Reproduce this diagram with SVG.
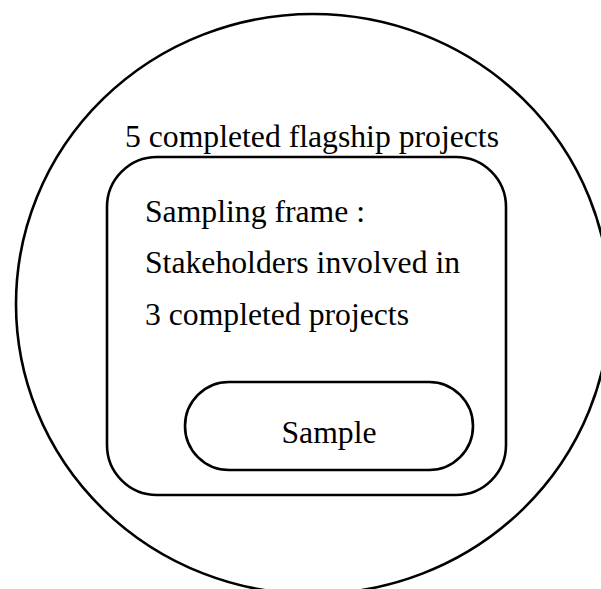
<svg xmlns="http://www.w3.org/2000/svg" width="601" height="589" viewBox="0 0 601 589">
  <style>
    .outline { fill: none; stroke: #000; stroke-width: 2.6; }
    .label { font-family: "Liberation Serif", "Times New Roman", serif; font-size: 31.7px; fill: #000; }
  </style>
  <rect width="601" height="589" fill="#fff"/>
  <!-- outer population: completed flagship projects -->
  <g id="population">
    <ellipse class="outline" cx="313" cy="304" rx="297" ry="290"/>
    <text class="label" x="125" y="147">5 completed flagship projects</text>
  </g>
  <!-- sampling frame -->
  <g id="sampling-frame">
    <rect class="outline" x="107" y="157" width="399" height="338" rx="50" ry="50"/>
    <text class="label" x="145" y="222">Sampling frame :</text>
    <text class="label" x="145" y="273">Stakeholders involved in</text>
    <text class="label" x="145" y="325">3 completed projects</text>
  </g>
  <!-- sample -->
  <g id="sample">
    <rect class="outline" x="185" y="382" width="288" height="88" rx="44" ry="44"/>
    <text class="label" x="329" y="443" text-anchor="middle">Sample</text>
  </g>
  <g id="connectors"/>
</svg>
